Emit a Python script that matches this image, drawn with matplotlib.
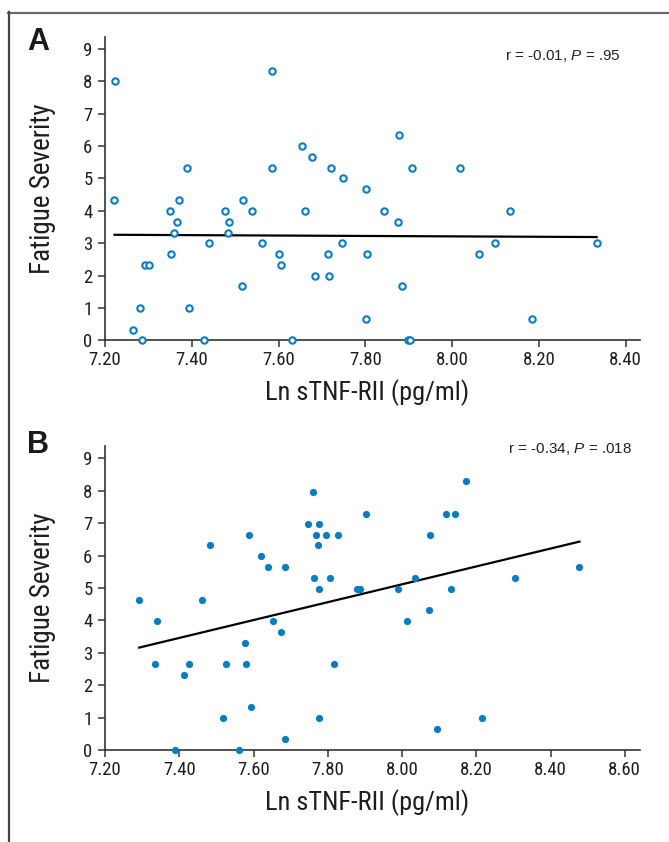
import matplotlib
matplotlib.use("Agg")
import matplotlib.pyplot as plt
from matplotlib.lines import Line2D
from matplotlib import font_manager

_avail = {f.name for f in font_manager.fontManager.ttflist}
_cond = [f for f in ['Roboto Condensed', 'Archivo Narrow', 'Liberation Sans Narrow'] if f in _avail]
COND = _cond + ['Liberation Sans', 'DejaVu Sans']
plt.rcParams['font.family'] = COND
plt.rcParams['mathtext.fontset'] = 'custom'
plt.rcParams['mathtext.rm'] = 'Liberation Sans'
plt.rcParams['mathtext.it'] = 'Liberation Sans:italic'

# ---------------- Data ----------------
a_x = [7.222, 7.221, 7.265, 7.281, 7.286, 7.293, 7.301, 7.350, 7.352, 7.359,
       7.365, 7.371, 7.390, 7.394, 7.428, 7.440, 7.476, 7.483, 7.486, 7.516,
       7.517, 7.539, 7.562, 7.586, 7.586, 7.602, 7.605, 7.630, 7.655, 7.662,
       7.678, 7.683, 7.713, 7.717, 7.720, 7.746, 7.748, 7.802, 7.804, 7.802,
       7.842, 7.875, 7.878, 7.885, 7.898, 7.904, 7.908, 8.018, 8.061, 8.098,
       8.133, 8.183, 8.333]
a_y = [8.00, 4.33, 0.33, 1.00, 0.00, 2.33, 2.33, 4.00, 2.67, 3.33,
       3.67, 4.33, 5.33, 1.00, 0.00, 3.00, 4.00, 3.33, 3.67, 1.67,
       4.33, 4.00, 3.00, 8.33, 5.33, 2.67, 2.33, 0.00, 6.00, 4.00,
       5.67, 2.00, 2.67, 2.00, 5.33, 3.00, 5.00, 4.67, 2.67, 0.67,
       4.00, 3.67, 6.33, 1.67, 0.00, 0.00, 5.33, 5.33, 2.67, 3.00,
       4.00, 0.67, 3.00]
fit_a_x = [7.222, 8.333]
fit_a_y = [3.26, 3.19]

b_x = [7.292, 7.340, 7.336, 7.388, 7.414, 7.426, 7.461, 7.483, 7.518, 7.527,
       7.562, 7.578, 7.579, 7.588, 7.592, 7.621, 7.638, 7.653, 7.673, 7.685,
       7.685, 7.746, 7.759, 7.763, 7.768, 7.773, 7.777, 7.777, 7.776, 7.794,
       7.805, 7.816, 7.827, 7.878, 7.887, 7.902, 7.988, 8.014, 8.034, 8.073,
       8.075, 8.094, 8.119, 8.132, 8.144, 8.173, 8.215, 8.304, 8.477]
b_y = [4.64, 3.98, 2.65, 0.00, 2.31, 2.65, 4.64, 6.31, 1.00, 2.65,
       0.00, 3.31, 2.65, 6.64, 1.33, 5.98, 5.64, 3.98, 3.65, 5.64,
       0.33, 6.96, 7.96, 5.31, 6.64, 6.31, 6.96, 4.98, 1.00, 6.64,
       5.31, 2.65, 6.64, 4.98, 4.98, 7.29, 4.98, 3.98, 5.31, 4.31,
       6.64, 0.66, 7.29, 4.98, 7.29, 8.29, 1.00, 5.31, 5.64]
fit_b_x = [7.292, 8.478]
fit_b_y = [3.16, 6.43]

a_xticks = [7.20, 7.40, 7.60, 7.80, 8.00, 8.20, 8.40]
b_xticks = [7.20, 7.40, 7.60, 7.80, 8.00, 8.20, 8.40, 8.60]
yticks = [0, 1, 2, 3, 4, 5, 6, 7, 8, 9]
xlabel = "Ln sTNF-RII (pg/ml)"
ylabel = "Fatigue Severity"
stat_a = r"r = -0.01, $P$ = .95"
stat_b = r"r = -0.34, $P$ = .018"

blue = '#0a7cc2'
W, H = 669, 842
fig = plt.figure(figsize=(W / 100, H / 100), dpi=100)


def px_axes(left, top, right, bottom):
    return fig.add_axes([left / W, 1 - bottom / H, (right - left) / W, (bottom - top) / H])


def style(ax, xticks, xlim, ylim):
    ax.set_xlim(*xlim)
    ax.set_ylim(*ylim)
    for s in ['top', 'right']:
        ax.spines[s].set_visible(False)
    for s in ['left', 'bottom']:
        ax.spines[s].set_color('#333333')
        ax.spines[s].set_linewidth(1.2)
    ax.set_xticks(xticks)
    ax.set_xticklabels([f"{t:.2f}" for t in xticks])
    ax.set_yticks(yticks)
    ax.tick_params(axis='both', direction='out', length=5, width=1.1,
                   color='#333333', labelsize=13.5, labelcolor='#1e1e1e')
    ax.tick_params(axis='x', pad=3)
    ax.tick_params(axis='y', pad=4)
    ax.set_xlabel(xlabel, fontsize=19, color='#1e1e1e')
    ax.set_ylabel(ylabel, fontsize=19.5, color='#1e1e1e')


# Panel A
axA = px_axes(105, 37, 640, 340.3)
axA.plot(a_x, a_y, 'o', ms=4.6, mfc='white', mec=blue, mew=1.5, clip_on=False, zorder=3)
axA.plot(fit_a_x, fit_a_y, color='black', lw=1.6, zorder=2)
style(axA, a_xticks, (7.2, 8.433), (0, 9.37))
axA.xaxis.set_label_coords(0.49, -0.172)
axA.xaxis.label.set_va('center')
axA.yaxis.set_label_coords(-0.116, 0.5)
axA.yaxis.label.set_va('center')
axA.text(621 / W, 1 - 56 / H, stat_a, transform=fig.transFigure, ha='right', va='center',
         fontsize=11, family=['Liberation Sans', 'DejaVu Sans'], color='#222222')
fig.text(27 / W, 1 - 42 / H, "A", fontsize=22, fontweight='bold',
         family=['Liberation Sans', 'DejaVu Sans'], ha='left', va='center', color='#1a1a1a')

# Panel B
axB = px_axes(105, 446, 640, 750)
axB.plot(b_x, b_y, 'o', ms=5.2, mfc=blue, mec=blue, mew=0, clip_on=False, zorder=3)
axB.plot(fit_b_x, fit_b_y, color='black', lw=1.6, zorder=2)
style(axB, b_xticks, (7.2, 8.641), (0, 9.38))
axB.xaxis.set_label_coords(0.49, -0.174)
axB.xaxis.label.set_va('center')
axB.yaxis.set_label_coords(-0.116, 0.5)
axB.yaxis.label.set_va('center')
axB.text(632 / W, 1 - 449 / H, stat_b, transform=fig.transFigure, ha='right', va='center',
         fontsize=11, family=['Liberation Sans', 'DejaVu Sans'], color='#222222')
fig.text(27 / W, 1 - 445 / H, "B", fontsize=22, fontweight='bold',
         family=['Liberation Sans', 'DejaVu Sans'], ha='left', va='center', color='#1a1a1a')

# Outer frame (top and left)
fig.add_artist(Line2D([8 / W, 1], [1 - 13 / H, 1 - 13 / H], transform=fig.transFigure,
                      color='#6a6a6a', lw=1.6))
fig.add_artist(Line2D([9 / W, 9 / W], [1 - 12 / H, 0], transform=fig.transFigure,
                      color='#444444', lw=1.6))

fig.savefig("out.png", dpi=100)
